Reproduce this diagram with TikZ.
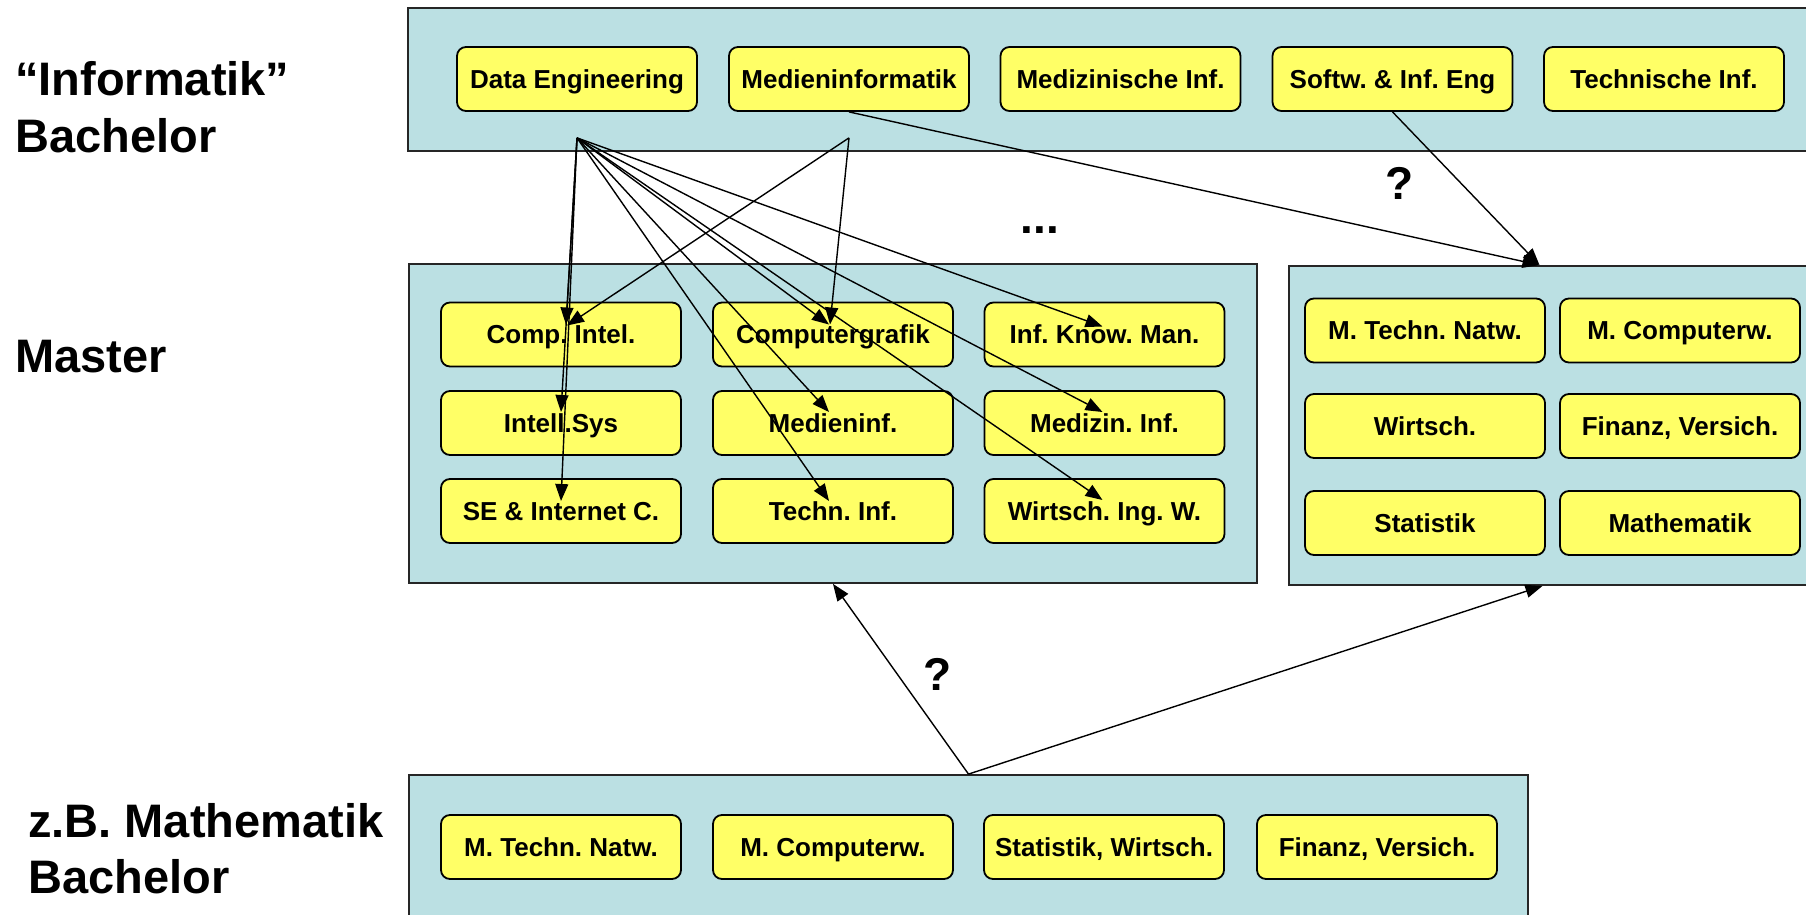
\documentclass[tikz,border=0pt]{standalone}
\usepackage{fontspec}
\setmainfont{Liberation Sans}
\frenchspacing
\usetikzlibrary{arrows.meta}
\definecolor{panelfill}{RGB}{187,224,227}
\definecolor{tagfill}{RGB}{255,255,102}
\begin{document}
\begin{tikzpicture}[x=1pt,y=-1pt,
  panel/.style={draw=black!85, line width=1.8pt, fill=panelfill, rectangle, inner sep=0pt},
  tag/.style={draw=black, line width=1.8pt, fill=tagfill, rounded corners=9pt,
    minimum width=240pt, minimum height=64pt, inner sep=0pt,
    text height=18.6pt, text depth=0pt,
    font=\bfseries\frenchspacing\fontsize{26}{30}\selectfont},
  rowlabel/.style={anchor=base west, inner sep=0pt, font=\bfseries\frenchspacing\fontsize{47}{56}\selectfont},
  mark text/.style={anchor=base, inner sep=0pt, font=\bfseries\fontsize{46}{56}\selectfont},
  link/.style={line width=1.4pt, -{Triangle[length=17pt,width=13pt]}}
]
\useasboundingbox (0,0) rectangle (1806,915);
\clip (0,0) rectangle (1806,915);

% row labels
\node[rowlabel] (labInf) at (15,96) {“Informatik”};
\node[rowlabel] (labInfB) at (15,153) {Bachelor};
\node[rowlabel] (labMaster) at (15,372) {Master};
\node[rowlabel] (labMath) at (28,837) {z.B. Mathematik};
\node[rowlabel] (labMathB) at (28,893) {Bachelor};

% panels
\node[panel, minimum width=1422pt, minimum height=143pt] (topbox) at (1119,79.5) {};
\node[panel, minimum width=848pt, minimum height=319pt] (mbox) at (833,423.5) {};
\node[panel, minimum width=541pt, minimum height=319pt] (rbox) at (1559.5,425.5) {};
\node[panel, minimum width=1119pt, minimum height=185pt] (bbox) at (968.5,867.5) {};

% Informatik bachelor programmes
\node[tag] (de) at (577,79) {Data Engineering};
\node[tag] (mi) at (849,79) {Medieninformatik};
\node[tag] (mzb) at (1120.5,79) {Medizinische Inf.};
\node[tag] (sw) at (1392.5,79) {Softw. \& Inf. Eng};
\node[tag] (tib) at (1664,79) {Technische Inf.};

% Informatik master programmes
\node[tag] (ci) at (561,334.5) {Comp. Intel.};
\node[tag] (cg) at (833,334.5) {Computergrafik};
\node[tag] (ikm) at (1104.5,334.5) {Inf. Know. Man.};
\node[tag] (is) at (561,423) {Intell.Sys};
\node[tag] (mim) at (833,423) {Medieninf.};
\node[tag] (mzm) at (1104.5,423) {Medizin. Inf.};
\node[tag] (se) at (561,511) {SE \& Internet C.};
\node[tag] (ti) at (833,511) {Techn. Inf.};
\node[tag] (wi) at (1104.5,511) {Wirtsch. Ing. W.};

% mathematics master programmes
\node[tag] (rmt) at (1425,330.5) {M. Techn. Natw.};
\node[tag] (rmc) at (1680,330.5) {M. Computerw.};
\node[tag] (rw) at (1425,426) {Wirtsch.};
\node[tag] (rfv) at (1680,426) {Finanz, Versich.};
\node[tag] (rst) at (1425,523) {Statistik};
\node[tag] (rma) at (1680,523) {Mathematik};

% mathematics bachelor programmes
\node[tag] (bmt) at (561,847) {M. Techn. Natw.};
\node[tag] (bmc) at (833,847) {M. Computerw.};
\node[tag] (bsw) at (1104,847) {Statistik, Wirtsch.};
\node[tag] (bfv) at (1377,847) {Finanz, Versich.};

% marks
\node[mark text] (q1) at (1400,199) {?};
\node[mark text] (q2) at (938,690) {?};
\node[mark text] (dots) at (1040,233) {...};

% fan-out points below the bachelor programmes
\coordinate (deo) at ([yshift=-26pt]de.south);
\coordinate (mio) at ([yshift=-26pt]mi.south);

% Data Engineering -> masters
\draw[link] (deo) -- ([xshift=5pt,yshift=10pt]ci.center);
\draw[link] (deo) -- ([yshift=11pt]is.center);
\draw[link] (deo) -- ([yshift=10pt]se.center);
\draw[link] (deo) -- ([xshift=-4pt,yshift=10pt]cg.center);
\draw[link] (deo) -- ([xshift=-4pt,yshift=11pt]mim.center);
\draw[link] (deo) -- ([xshift=-4pt,yshift=10pt]ti.center);
\draw[link] (deo) -- ([xshift=-2pt,yshift=8pt]ikm.center);
\draw[link] (deo) -- ([xshift=-2pt,yshift=11pt]mzm.center);
\draw[link] (deo) -- ([xshift=-2pt,yshift=11pt]wi.center);

% Medieninformatik -> masters
\draw[link] (mio) -- ([xshift=6pt,yshift=9pt]ci.center);
\draw[link] (mio) -- ([xshift=-3pt,yshift=10pt]cg.center);

% to the mathematics masters
\draw[link] (mi.south) -- ([xshift=-20pt]rbox.north);
\draw[link] (sw.south) -- ([xshift=-20pt]rbox.north);

% from the mathematics bachelor
\draw[link] (bbox.north) -- (mbox.south);
\draw[link] (bbox.north) -- ([xshift=-17pt]rbox.south);
\end{tikzpicture}
\end{document}
